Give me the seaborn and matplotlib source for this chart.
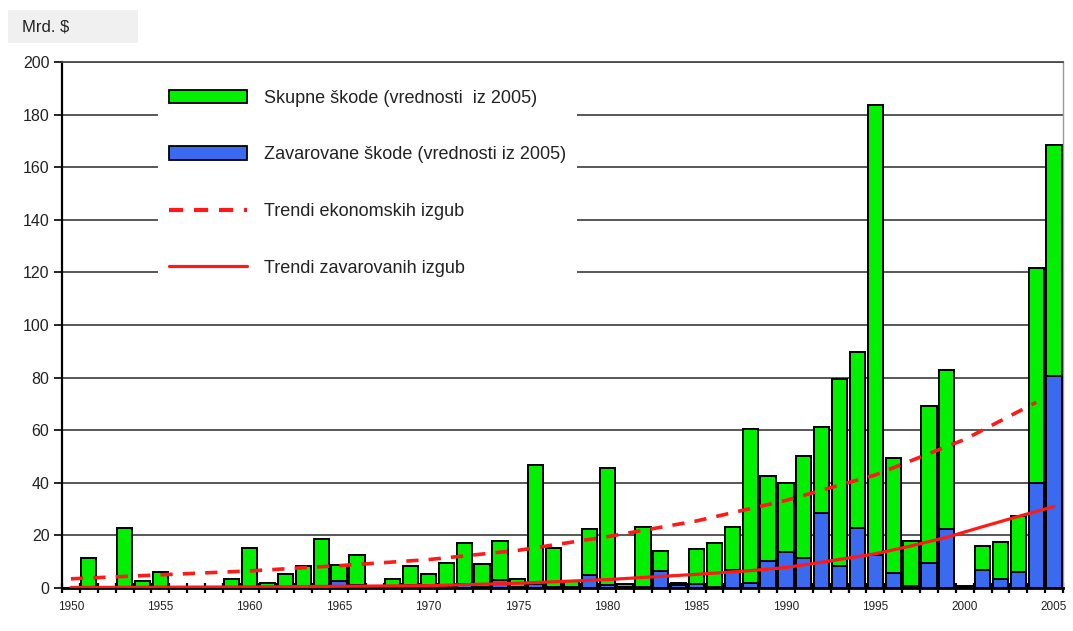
import numpy as np
import pandas as pd
import matplotlib
matplotlib.use("Agg")
import matplotlib.pyplot as plt
from matplotlib.patches import Patch, Rectangle
from matplotlib.lines import Line2D
from matplotlib.ticker import MultipleLocator, FixedLocator
import seaborn as sns

# Annual losses from natural catastrophes, billions of USD (2005 values)
years = list(range(1950, 2006))
total_losses = [
    0.0, 11.3, 0.0, 23.0, 2.5, 6.0, 0.0, 0.0, 0.0, 3.5,      # 1950-1959
    15.2, 2.0, 5.3, 8.3, 18.6, 8.9, 12.4, 0.0, 3.5, 8.3,     # 1960-1969
    5.3, 9.6, 17.0, 9.0, 18.0, 3.3, 46.8, 15.3, 2.5, 22.3,   # 1970-1979
    45.8, 1.5, 23.3, 14.0, 2.0, 15.0, 17.0, 23.2, 60.5, 42.4,  # 1980-1989
    39.8, 50.2, 61.2, 79.4, 89.7, 183.5, 49.5, 17.8, 69.3, 82.8,  # 1990-1999
    0.6, 15.8, 17.5, 27.4, 121.5, 168.4,                     # 2000-2005
]
insured_losses = [
    0.0, 0.3, 0.0, 0.3, 0.0, 0.0, 0.0, 0.0, 0.0, 0.0,
    0.3, 0.0, 0.0, 0.3, 0.5, 2.8, 1.0, 0.0, 0.3, 1.0,
    1.0, 0.5, 1.5, 0.5, 3.0, 0.5, 1.5, 0.5, 0.5, 5.0,
    1.0, 0.5, 0.5, 6.3, 1.2, 1.5, 0.3, 6.7, 1.8, 10.2,
    13.6, 11.4, 28.5, 8.3, 23.0, 12.4, 5.6, 0.6, 9.5, 22.5,
    0.3, 6.7, 3.4, 6.0, 40.1, 80.5,
]

# Trend curves
econ_trend_years = [1950, 1955, 1960, 1965, 1970, 1975, 1980, 1985, 1990, 1995, 2000, 2004]
econ_trend = [3.5, 5.0, 6.5, 8.5, 10.8, 14.3, 19.5, 25.5, 33.3, 43.0, 56.5, 70.6]
ins_trend_years = [1950, 1960, 1970, 1975, 1980, 1985, 1988, 1990, 1992, 1995, 1997,
                   1999, 2001, 2003, 2005]
ins_trend = [0.2, 0.4, 0.9, 1.8, 3.2, 5.2, 6.6, 7.8, 9.8, 13.0, 16.0, 19.3, 23.3, 27.2, 31.0]

y_ticks = list(range(0, 201, 20))
x_tick_labels = list(range(1950, 2006, 5))

legend_labels = [
    "Skupne škode (vrednosti  iz 2005)",
    "Zavarovane škode (vrednosti iz 2005)",
    "Trendi ekonomskih izgub",
    "Trendi zavarovanih izgub",
]
unit_label = "Mrd. $"

GREEN = "#00F000"
BLUE = "#3A6AF0"
RED = "#FF1A1A"
GRID = "#4a4a4a"

sns.set_style("white")
plt.rcParams["font.family"] = ["Liberation Sans", "DejaVu Sans"]

df = pd.DataFrame({"year": years, "total": total_losses, "insured": insured_losses})

fig = plt.figure(figsize=(10.73, 6.31), dpi=100)
ax = fig.add_axes([62 / 1073, 1 - 588 / 631, 1001 / 1073, 526 / 631])

# total bars first, insured part overlaid from the baseline
sns.barplot(data=df, x="year", y="total", native_scale=True, color=GREEN,
            saturation=1, width=0.85, edgecolor="black", linewidth=1.4,
            errorbar=None, ax=ax, zorder=2)
sns.barplot(data=df, x="year", y="insured", native_scale=True, color=BLUE,
            saturation=1, width=0.85, edgecolor="black", linewidth=1.4,
            errorbar=None, ax=ax, zorder=3)

ax.plot(econ_trend_years, econ_trend, color=RED, lw=2.6,
        linestyle=(0, (3.4, 2.8)), zorder=5)
ax.plot(ins_trend_years, ins_trend, color=RED, lw=2.3, zorder=5)

ax.set_xlim(1949.5, 2005.5)
ax.set_ylim(0, 200)
ax.set_axisbelow(True)
ax.yaxis.grid(True, color=GRID, lw=1.3)
ax.xaxis.grid(False)

ax.yaxis.set_major_locator(FixedLocator(y_ticks))
ax.set_yticklabels([str(v) for v in y_ticks], fontsize=11.5)
ax.tick_params(axis="y", which="major", left=True, length=6, width=1.2,
               color="black", pad=3, labelcolor="#222222")

ax.xaxis.set_major_locator(FixedLocator(x_tick_labels))
ax.set_xticklabels([str(v) for v in x_tick_labels], fontsize=8.5)
ax.xaxis.set_minor_locator(MultipleLocator(1, offset=0.5))
ax.tick_params(axis="x", which="major", bottom=True, length=0, pad=9,
               labelcolor="#222222")
ax.tick_params(axis="x", which="minor", bottom=True, length=7, width=1.6,
               direction="inout", color="black")
ax.set_xlabel("")
ax.set_ylabel("")

for side in ax.spines.values():
    side.set_visible(True)
ax.spines["left"].set_color("black")
ax.spines["left"].set_linewidth(1.6)
ax.spines["bottom"].set_color("black")
ax.spines["bottom"].set_linewidth(2.0)
ax.spines["bottom"].set_zorder(4)
ax.spines["top"].set_color(GRID)
ax.spines["top"].set_linewidth(1.3)
ax.spines["right"].set_color("#9a9a9a")
ax.spines["right"].set_linewidth(1.0)

handles = [
    Patch(facecolor=GREEN, edgecolor="black", linewidth=1.3),
    Patch(facecolor=BLUE, edgecolor="black", linewidth=1.3),
    Line2D([], [], color=RED, lw=3.0, linestyle=(0, (3.4, 2.6))),
    Line2D([], [], color=RED, lw=2.3),
]
leg = ax.legend(handles, legend_labels, loc="upper left",
                bbox_to_anchor=(0.096, 0.968), frameon=True, fancybox=False,
                framealpha=1, facecolor="white", edgecolor="none",
                fontsize=13, handlelength=4.3, handleheight=0.75,
                handletextpad=0.95, labelspacing=2.2, borderpad=0.6,
                borderaxespad=0)
leg.set_zorder(10)
for t in leg.get_texts():
    t.set_color("#222222")

# unit caption box in the top-left corner
fig.patches.append(Rectangle((8 / 1073, 1 - 43 / 631), 130 / 1073, 33 / 631,
                             transform=fig.transFigure, facecolor="#f0f0f0",
                             edgecolor="none", zorder=0))
fig.text(22 / 1073, 1 - 27 / 631, unit_label, fontsize=12, color="#222222",
         ha="left", va="center")

fig.savefig("out.png", dpi=100, facecolor="white")
